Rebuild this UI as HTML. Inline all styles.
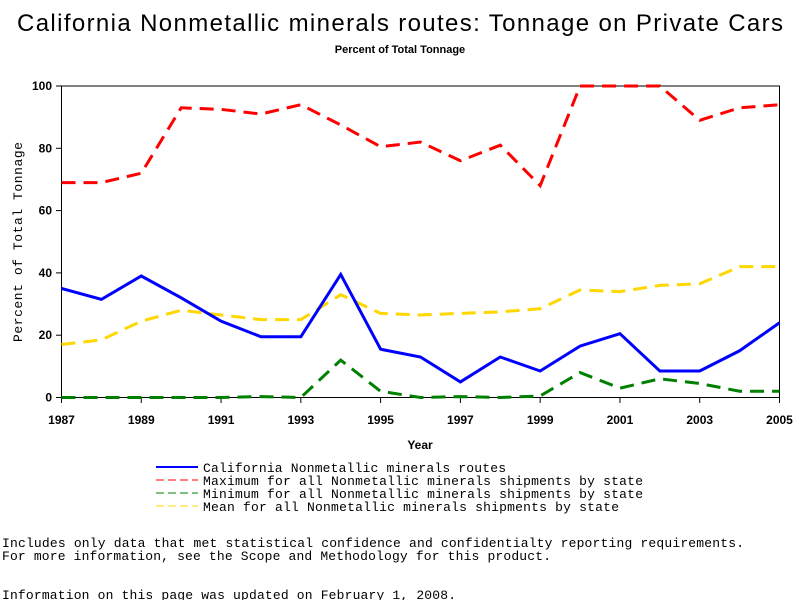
<!DOCTYPE html>
<html><head><meta charset="utf-8"><style>
body{margin:0;background:#fff}
svg{display:block}
text{font-family:"Liberation Sans",sans-serif}
.m{font-family:"Liberation Mono",monospace;font-size:13px}
</style></head><body>
<svg id="chart" width="800" height="600">
<text x="400" y="31" text-anchor="middle" font-size="24" textLength="766">California Nonmetallic minerals routes: Tonnage on Private Cars</text>
<text x="400" y="53" text-anchor="middle" font-size="11" font-weight="bold">Percent of Total Tonnage</text>
<text transform="translate(22,242) rotate(-90)" text-anchor="middle" class="m" font-size="12" textLength="200">Percent of Total Tonnage</text>
<text x="420" y="449" text-anchor="middle" font-size="12" font-weight="bold">Year</text>
<rect x="61.5" y="86" width="718" height="311.5" fill="none" stroke="#000" stroke-width="1"/>
<g id="axes"></g>
<g id="series"></g>
<g>
<line x1="156" y1="467" x2="198" y2="467" stroke="#0000ff" stroke-width="2"/>
<text x="203" y="472" class="m" textLength="303">California Nonmetallic minerals routes</text>
<line x1="156" y1="480" x2="198" y2="480" stroke="#ff0000" stroke-width="1" stroke-dasharray="8,4"/>
<text x="203" y="485" class="m" textLength="440">Maximum for all Nonmetallic minerals shipments by state</text>
<line x1="156" y1="493" x2="198" y2="493" stroke="#008000" stroke-width="1" stroke-dasharray="8,4"/>
<text x="203" y="498" class="m" textLength="440">Minimum for all Nonmetallic minerals shipments by state</text>
<line x1="156" y1="506" x2="198" y2="506" stroke="#ffd700" stroke-width="1" stroke-dasharray="8,4"/>
<text x="203" y="511" class="m" textLength="416">Mean for all Nonmetallic minerals shipments by state</text>
</g>
<text x="2" y="547" class="m" textLength="742">Includes only data that met statistical confidence and confidentialty reporting requirements.</text>
<text x="2" y="560" class="m" textLength="549">For more information, see the Scope and Methodology for this product.</text>
<text x="2" y="599" class="m" textLength="454">Information on this page was updated on February 1, 2008.</text>
</svg>
<script>
const years=[1987,1988,1989,1990,1991,1992,1993,1994,1995,1996,1997,1998,1999,2000,2001,2002,2003,2004,2005];
const california=[35,31.5,39,32,24.5,19.5,19.5,39.5,15.5,13,5,13,8.5,16.5,20.5,8.5,8.5,15,24];
const maximum=[69,69,72,93,92.5,91,94,87.5,80.5,82,76,81,68,100,100,100,89,93,94];
const minimum=[0,0,0,0,0,0.3,0,12,2,0,0.3,0,0.5,8,3,6,4.5,2,2];
const mean=[17,18.5,24.5,28,26.5,25,25,33,27,26.5,27,27.5,28.5,34.5,34,36,36.5,42,42];
const yTicks=[0,20,40,60,80,100];
const xTicks=[1987,1989,1991,1993,1995,1997,1999,2001,2003,2005];
const NS="http://www.w3.org/2000/svg";
function xs(v){return 61.5+(v-1987)*(718/18);}
function ys(v){return 397.5-v*3.115;}
const axes=document.getElementById('axes');
yTicks.forEach(t=>{
  const l=document.createElementNS(NS,'line');
  l.setAttribute('x1',56);l.setAttribute('x2',61.5);l.setAttribute('y1',ys(t));l.setAttribute('y2',ys(t));l.setAttribute('stroke','#000');
  
  
  axes.appendChild(l);
  const tx=document.createElementNS(NS,'text');
  tx.setAttribute('x',52);tx.setAttribute('y',ys(t)+4);tx.setAttribute('text-anchor','end');tx.setAttribute('font-size','12');tx.setAttribute('font-weight','bold');
  tx.textContent=t;
  
  
  axes.appendChild(tx);
});
xTicks.forEach(t=>{
  const l=document.createElementNS(NS,'line');
  l.setAttribute('x1',xs(t));l.setAttribute('x2',xs(t));l.setAttribute('y1',397.5);l.setAttribute('y2',403);l.setAttribute('stroke','#000');
  
  
  axes.appendChild(l);
  const tx=document.createElementNS(NS,'text');
  tx.setAttribute('x',xs(t));tx.setAttribute('y',424);tx.setAttribute('text-anchor','middle');tx.setAttribute('font-size','12');tx.setAttribute('font-weight','bold');
  tx.textContent=t;
  
  
  axes.appendChild(tx);
});
const g=document.getElementById('series');
function draw(vals,color,w,dash,name){
  const p=document.createElementNS(NS,'polyline');
  p.setAttribute('points',vals.map((v,i)=>xs(years[i])+','+ys(v)).join(' '));
  p.setAttribute('fill','none');p.setAttribute('stroke',color);p.setAttribute('stroke-width',w);
  if(dash)p.setAttribute('stroke-dasharray',dash);
  
  
  g.appendChild(p);
}
draw(maximum,'#ff0000',3,'14,8','series-maximum');
draw(mean,'#ffd700',3,'14,8','series-mean');
draw(minimum,'#008000',3,'14,8','series-minimum');
draw(california,'#0000ff',3,null,'series-california');
</script>
</body></html>
